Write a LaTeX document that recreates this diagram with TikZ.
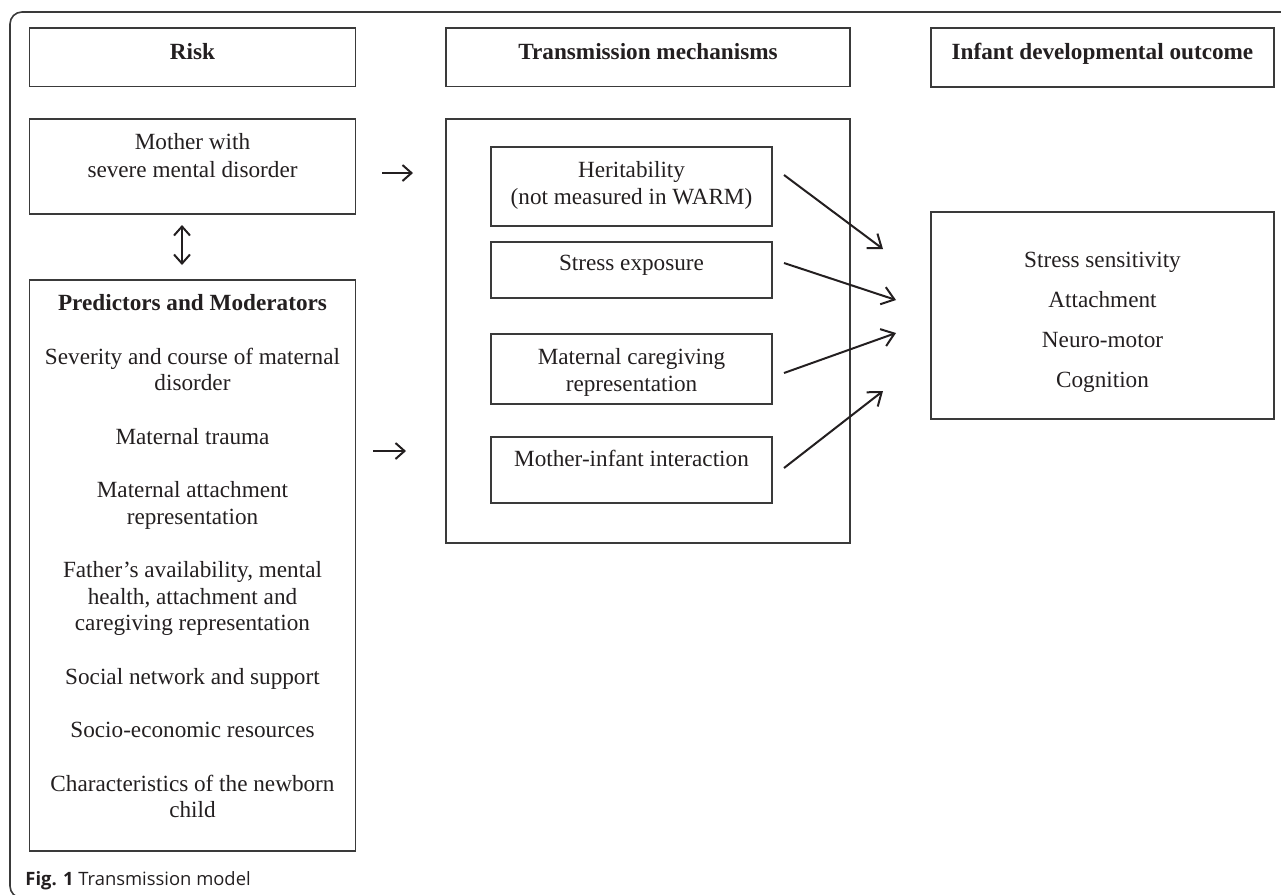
\documentclass[tikz,border=0pt]{standalone}
\usepackage{fontspec}
\setmainfont{Liberation Serif}
\newfontfamily\capfont{Open Sans}
\usetikzlibrary{arrows.meta,fit}
\definecolor{ink}{HTML}{231F20}
\definecolor{edge}{HTML}{3A3A3A}
\begin{document}
\begin{tikzpicture}[x=0.5pt,y=-0.5pt,
  box/.style={draw=edge, line width=0.65pt, inner sep=0pt, outer sep=0pt},
  txt/.style={text=ink, inner sep=0pt, align=center, anchor=north,
    font=\fontsize{11.6}{13.5}\selectfont},
  hdr/.style={txt, font=\fontsize{11.6}{13.5}\selectfont\bfseries},
  arr/.style={draw=ink, line width=1pt, -{Straight Barb[length=6pt,width=9pt]}},
  sarr/.style={draw=ink, line width=1pt, -{Straight Barb[length=4.5pt,width=8pt]}},
  darr/.style={draw=ink, line width=1pt, {Straight Barb[length=4.5pt,width=8pt]}-{Straight Barb[length=4.5pt,width=8pt]}},
  frame/.style={draw=edge, line width=0.8pt, rounded corners=6pt}]
\useasboundingbox (0,0) rectangle (1281,895);
% outer frame
\draw[frame] (1300,12) -- (10,12) -- (10,898) -- (60,898);
% boxes
\node[box, fit={(29.5,28) (355.5,86.5)}] (risk) {};
\node[box, fit={(29.5,119) (355.5,214)}] (mother) {};
\node[box, fit={(29.5,280) (355.5,851)}] (pred) {};
\node[box, fit={(446,28) (850,86.5)}] (transH) {};
\node[box, fit={(446,119) (850,543)}] (mech) {};
\node[box, fit={(491,147) (772,226)}] (her) {};
\node[box, fit={(491,242) (772,298)}] (stress) {};
\node[box, fit={(491,334) (772,404)}] (care) {};
\node[box, fit={(491,437) (772,503)}] (inter) {};
\node[box, fit={(931,28) (1274,87)}] (outH) {};
\node[box, fit={(931,212) (1274,419)}] (out) {};
% texts
\node[hdr] (riskT) at (192.5,43) {Risk};
\node[hdr] (transT) at (648,43) {Transmission mechanisms};
\node[hdr] (outT) at (1102.5,43) {Infant developmental outcome};
\node[txt, font=\fontsize{11.6}{14}\selectfont] (motherT) at (192.5,133) {Mother with\\severe mental disorder};
\node[txt, font=\fontsize{11.6}{13.25}\selectfont] (predT) at (192.5,294.3) {\textbf{Predictors and Moderators}\\[13.5pt]
Severity and course of maternal\\disorder\\[13.5pt]
Maternal trauma\\[13.5pt]
Maternal attachment\\representation\\[13.5pt]
Father’s availability, mental\\health, attachment and\\caregiving representation\\[13.5pt]
Social network and support\\[13.5pt]
Socio-economic resources\\[13.5pt]
Characteristics of the newborn\\child};
\node[txt] (herT) at (631.5,161) {Heritability\\(not measured in WARM)};
\node[txt] (stressT) at (631.5,255) {Stress exposure};
\node[txt] (careT) at (631.5,348) {Maternal caregiving\\representation};
\node[txt] (interT) at (631.5,450) {Mother-infant interaction};
\node[txt, font=\fontsize{11.6}{20}\selectfont] (outT2) at (1102.5,252) {Stress sensitivity\\Attachment\\Neuro-motor\\Cognition};
\node[anchor=base west, inner sep=0pt, text=ink, font=\capfont\fontsize{9.2}{11}\selectfont] (cap) at (25,885) {\textbf{Fig. 1} Transmission model};
% connector end points
\coordinate (a1s) at (382,173);  \coordinate (a1e) at (413,173);
\coordinate (a2s) at (373,451);  \coordinate (a2e) at (406,451);
\coordinate (dA) at (182,225);   \coordinate (dB) at (182,265);
\coordinate (h1) at (784,175);   \coordinate (h2) at (883,249);
\coordinate (s1) at (784,263);   \coordinate (s2) at (896,300);
\coordinate (c1) at (784,373);   \coordinate (c2) at (896,333);
\coordinate (i1) at (784,468);   \coordinate (i2) at (883,391);
% connectors
\draw[sarr] (a1s) -- (a1e);
\draw[sarr] (a2s) -- (a2e);
\draw[darr] (dA) -- (dB);
\draw[arr] (h1) -- (h2);
\draw[arr] (s1) -- (s2);
\draw[arr] (c1) -- (c2);
\draw[arr] (i1) -- (i2);
\end{tikzpicture}
\end{document}
